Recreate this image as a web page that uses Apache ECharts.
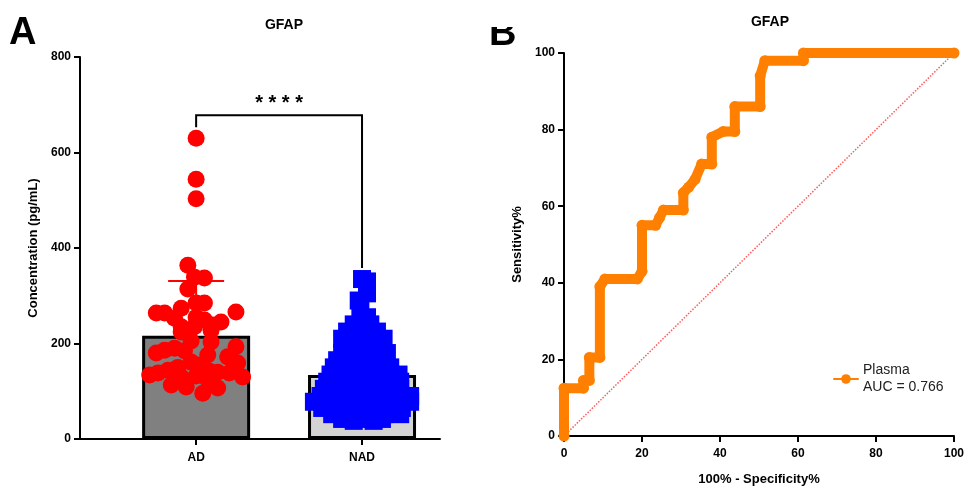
<!DOCTYPE html>
<html>
<head>
<meta charset="utf-8">
<script src="https://cdn.jsdelivr.net/npm/echarts@6/dist/echarts.min.js"></script>
<style>
html,body{margin:0;padding:0;background:#fff;}
#c{width:967px;height:491px;}
</style>
</head>
<body>
<div id="c"></div>
<script>
// ---------- Data ----------
const categories = ['AD', 'NAD'];
const barMeans = [216, 134];
const errTop = [331, 211];
const barColors = ['#808080', '#d3d3d3'];
const pointColors = ['#ff0000', '#0000ff'];

const adValues = [630,544,503,364,339,337,314,285,285,274,264,264,266,253,255,249,245,239,235,235,224,228,203,193,186,190,185,180,172,161,159,155,144,138,134,130,138,140,142,130,132,124,113,109,96,107,176,205,150];
const adJitter = [0,0,0,-0.05,-0.01,0.05,-0.05,0,0.05,-0.09,-0.24,-0.19,0.24,-0.13,0,0.05,0.15,0.10,-0.09,-0.01,-0.09,0.09,0.09,0.24,-0.19,-0.13,-0.07,-0.24,0.19,-0.03,0.25,0.01,-0.17,-0.23,-0.28,0.28,0.20,0.13,0.08,-0.09,0,0.07,-0.15,-0.06,0.04,0.13,0.07,-0.03,-0.11];

const nadValues = [335,330,305,290,270,255,240,240,225,225,225,210,210,210,210,195,195,195,180,180,180,180,165,165,165,165,150,150,150,150,150,135,135,135,135,135,135,120,120,120,120,120,120,105,105,105,105,105,105,90,90,90,90,90,90,90,78,78,78,78,78,78,78,65,65,65,65,65,65,52,52,52,52,52,42,42,42,38,38];
const nadJitter = [0,0.03,0.03,-0.02,-0.01,0.03,-0.05,0.05,-0.09,0.01,0.09,-0.12,-0.04,0.05,0.13,-0.09,0,0.09,-0.12,-0.03,0.06,0.15,-0.15,-0.06,0.03,0.12,-0.17,-0.08,0,0.08,0.17,-0.19,-0.10,-0.01,0.08,0.17,0.22,-0.21,-0.12,-0.03,0.06,0.15,0.23,-0.23,-0.13,-0.05,0.05,0.13,0.23,-0.25,-0.17,-0.07,0.02,0.12,0.21,0.29,-0.29,-0.19,-0.10,0,0.10,0.19,0.29,-0.24,-0.14,-0.05,0.05,0.14,0.24,-0.18,-0.07,0.04,0.13,0.23,-0.12,0,0.12,-0.05,0.07];

const sigLabel = '****';
const bracketTop = 678, bracketLeftEnd = 653, bracketRightEnd = 358;

// ROC: [100% - Specificity%, Sensitivity%]
const rocX = [0,0,5,5,6.5,6.5,9.2,9.2,10.5,18.8,20,20,23.5,24.5,25.5,30.6,30.6,32,33.6,35.3,37.9,37.9,40.8,43.8,43.8,50.3,50.3,51.5,61.4,61.4,100];
const rocY = [0,12.5,12.5,14.5,14.5,20.5,20.5,39,41,41,43,55,55,57,59,59,63.5,65,67,71,71,78,79.5,79.5,86,86,94,98,98,100,100];
const refX = [0,100];
const refY = [0,100];
const rocName = 'Plasma';
const aucText = 'AUC = 0.766';

// ---------- Chart ----------
const FONT = 'Liberation Sans, Arial, sans-serif';
const chart = echarts.init(document.getElementById('c'), null, {renderer: 'canvas'});

const adData = adValues.map((v, i) => [1 + adJitter[i], v]);
const nadData = nadValues.map((v, i) => [2 + nadJitter[i], v]);
const rocData = rocX.map((x, i) => [x, rocY[i]]);
const refData = refX.map((x, i) => [x, refY[i]]);

const axisLineStyle = {show: true, lineStyle: {color: '#000', width: 2}};
const tickStyle = {show: true, length: 6, lineStyle: {color: '#000', width: 2}};
const labelStyle = {color: '#000', fontWeight: 'bold', fontSize: 12, fontFamily: FONT};

chart.setOption({
  animation: false,
  backgroundColor: '#fff',
  textStyle: {fontFamily: FONT},
  title: [
    {text: 'GFAP', left: 279, top: 13, textAlign: 'center', textStyle: {fontSize: 14, fontWeight: 'bold', color: '#000', fontFamily: FONT}},
    {text: 'GFAP', left: 765, top: 10, textAlign: 'center', textStyle: {fontSize: 14, fontWeight: 'bold', color: '#000', fontFamily: FONT}}
  ],
  graphic: [
    {type: 'text', left: 9, top: 15, style: {text: 'A', font: 'bold 38px ' + FONT, fill: '#000'}},
    {type: 'text', left: 489, top: 16, style: {text: 'B', font: 'bold 38px ' + FONT, fill: '#000'}},
    {type: 'rect', shape: {x: 480, y: 0, width: 50, height: 27}, style: {fill: '#fff'}, z: 100}
  ],
  legend: {
    data: [rocName],
    left: 828, top: 357,
    itemWidth: 24, itemHeight: 12,
    formatter: (n) => n + '\n' + aucText,
    textStyle: {fontSize: 14, lineHeight: 17, color: '#222', fontFamily: FONT},
    selectedMode: false
  },
  grid: [
    {left: 80, top: 57, width: 360, height: 382},
    {left: 564, top: 53, width: 390, height: 384}
  ],
  xAxis: [
    {
      gridIndex: 0, type: 'value', min: 0.3, max: 2.47,
      axisLine: axisLineStyle,
      axisTick: Object.assign({}, tickStyle, {customValues: [1, 2]}),
      axisLabel: Object.assign({}, labelStyle, {customValues: [1, 2], margin: 13, formatter: (v) => categories[Math.round(v) - 1] || ''}),
      splitLine: {show: false}
    },
    {
      gridIndex: 1, type: 'value', min: 0, max: 100, interval: 20,
      name: '100% - Specificity%', nameLocation: 'middle', nameGap: 37,
      nameTextStyle: {fontWeight: 'bold', fontSize: 13, color: '#000', fontFamily: FONT},
      axisLine: axisLineStyle, axisTick: tickStyle,
      axisLabel: Object.assign({}, labelStyle, {margin: 12}),
      splitLine: {show: false}
    }
  ],
  yAxis: [
    {
      gridIndex: 0, type: 'value', min: 0, max: 800, interval: 200,
      name: 'Concentration (pg/mL)', nameLocation: 'middle', nameGap: 40,
      nameTextStyle: {fontWeight: 'bold', fontSize: 13, color: '#000', fontFamily: FONT},
      axisLine: axisLineStyle, axisTick: tickStyle,
      axisLabel: Object.assign({}, labelStyle, {margin: 9}),
      splitLine: {show: false}
    },
    {
      gridIndex: 1, type: 'value', min: 0, max: 100, interval: 20,
      name: 'Sensitivity%', nameLocation: 'middle', nameGap: 40,
      nameTextStyle: {fontWeight: 'bold', fontSize: 13, color: '#000', fontFamily: FONT},
      axisLine: axisLineStyle, axisTick: tickStyle,
      axisLabel: Object.assign({}, labelStyle, {margin: 9}),
      splitLine: {show: false}
    }
  ],
  series: [
    {
      type: 'bar', xAxisIndex: 0, yAxisIndex: 0, barWidth: 108, z: 1,
      data: barMeans.map((m, i) => ({value: [i + 1, m], itemStyle: {color: barColors[i], borderColor: '#000', borderWidth: 3}}))
    },
    {
      type: 'scatter', xAxisIndex: 0, yAxisIndex: 0, symbol: 'circle', symbolSize: 17, z: 3,
      itemStyle: {color: pointColors[0], opacity: 1}, data: adData
    },
    {
      type: 'scatter', xAxisIndex: 0, yAxisIndex: 0, symbol: 'rect', symbolSize: 18, z: 3,
      itemStyle: {color: pointColors[1], opacity: 1}, data: nadData
    },
    {
      type: 'custom', xAxisIndex: 0, yAxisIndex: 0, z: 4,
      data: barMeans.map((m, i) => [i + 1, m, errTop[i]]),
      renderItem: (params, api) => {
        const i = params.dataIndex;
        const p0 = api.coord([api.value(0), api.value(1)]);
        const p1 = api.coord([api.value(0), api.value(2)]);
        const c = pointColors[i];
        return {type: 'group', children: [
          {type: 'line', shape: {x1: p0[0], y1: p0[1], x2: p1[0], y2: p1[1]}, style: {stroke: c, lineWidth: 2}},
          {type: 'line', shape: {x1: p1[0] - 28, y1: p1[1], x2: p1[0] + 28, y2: p1[1]}, style: {stroke: c, lineWidth: 2}}
        ]};
      }
    },
    {
      type: 'custom', xAxisIndex: 0, yAxisIndex: 0, z: 5,
      data: [[1, 2, bracketTop, bracketLeftEnd, bracketRightEnd]],
      renderItem: (params, api) => {
        const a = api.coord([api.value(0), api.value(3)]);
        const b = api.coord([api.value(0), api.value(2)]);
        const c = api.coord([api.value(1), api.value(2)]);
        const d = api.coord([api.value(1), api.value(4)]);
        return {type: 'group', children: [
          {type: 'polyline', shape: {points: [a, b, c, d]}, style: {stroke: '#000', lineWidth: 2, fill: null}},
          {type: 'text', x: (b[0] + c[0]) / 2, y: b[1] - 12, style: {text: sigLabel.split('').join(' '), font: 'bold 20px ' + FONT, fill: '#000', align: 'center', verticalAlign: 'middle'}}
        ]};
      }
    },
    {
      type: 'line', xAxisIndex: 1, yAxisIndex: 1, data: refData, symbol: 'none', z: 2,
      lineStyle: {color: '#ff5a5a', width: 1.5, type: 'dotted'}, silent: true
    },
    {
      name: rocName, type: 'line', xAxisIndex: 1, yAxisIndex: 1, data: rocData, z: 3,
      symbol: 'circle', symbolSize: 11, showSymbol: true,
      itemStyle: {color: '#ff8000'},
      lineStyle: {color: '#ff8000', width: 10, join: 'round', cap: 'round'}
    }
  ]
});
</script>
</body>
</html>
